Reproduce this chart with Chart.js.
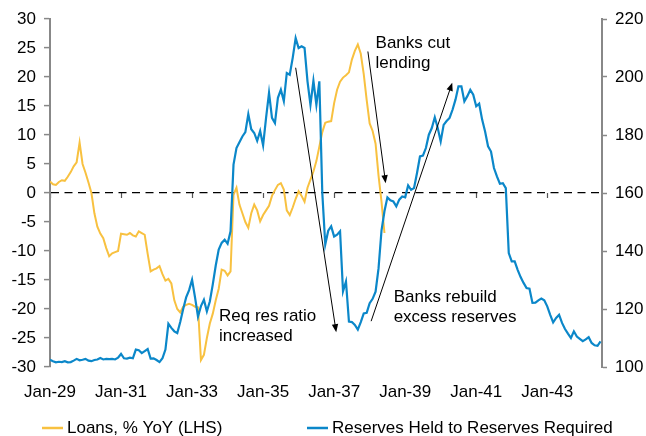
<!DOCTYPE html>
<html>
<head>
<meta charset="utf-8">
<script src="https://cdn.jsdelivr.net/npm/chart.js@4.4.1/dist/chart.umd.min.js"></script>
<style>
  html, body { margin: 0; padding: 0; background: #fff; }
</style>
</head>
<body>
<canvas id="chart" width="646" height="436"></canvas>
<script>
// Monthly values, index 0 = Jan-29
const loans = [
    2.0, 1.5, 1.4, 1.9, 2.2, 2.1, 2.8, 3.6, 4.6, 5.3,
    8.7, 5.0, 3.5, 1.8, 0.0, -3.5, -5.8, -7.0, -7.8, -9.5,
    -10.9, -10.4, -10.2, -10.0, -7.0, -7.1, -7.2, -6.9, -7.3, -7.5,
    -6.6, -6.9, -7.2, -10.5, -13.5, -13.2, -13.0, -12.6, -14.0, -15.1,
    -14.8, -15.6, -18.5, -20.0, -20.6, -19.6, -19.3, -19.1, -19.3, -19.6,
    -19.7, -28.8, -27.9, -25.0, -22.5, -20.8, -18.5, -16.5, -13.2, -13.4,
    -14.2, -13.5, -0.3, 0.9, -2.0, -3.5, -5.0, -6.0, -3.5, -2.0,
    -3.0, -4.9, -3.8, -3.0, -2.2, -0.5, 0.5, 1.4, 1.7, 0.6,
    -3.0, -3.8, -2.5, -1.0, 0.3, -0.5, -1.5, 0.9, 2.3, 3.7,
    5.5, 8.0, 10.5, 12.1, 12.3, 12.4, 15.5, 17.8, 19.2, 19.9,
    20.3, 20.8, 23.0, 24.5, 25.6, 24.0, 20.5, 16.0, 12.0, 10.7,
    8.5, 3.0, -1.5, -6.9
];

const reserves = [
    102.5, 102.0, 101.6, 101.8, 101.7, 102.0, 101.6, 101.7, 102.2, 102.8,
    102.3, 102.5, 102.8, 102.2, 102.0, 102.4, 102.6, 103.1, 102.6, 102.8,
    102.7, 102.8, 102.6, 103.2, 104.5, 103.0, 102.9, 103.2, 103.0, 106.0,
    105.8, 104.8, 105.5, 106.2, 102.9, 103.0, 102.4, 101.7, 103.0, 106.0,
    114.9, 113.5, 112.3, 111.7, 115.5, 120.0, 124.0, 126.5, 130.1, 124.0,
    117.4, 121.0, 123.2, 119.2, 122.6, 128.5, 135.0, 140.5, 142.8, 143.9,
    142.5, 146.8, 169.8, 175.5, 177.5, 179.5, 181.0, 187.2, 182.0, 180.7,
    178.0, 181.4, 176.4, 185.9, 194.5, 185.9, 184.1, 192.8, 195.6, 191.7,
    201.4, 200.8, 206.6, 213.4, 210.0, 210.6, 210.0, 198.5, 190.4, 198.7,
    190.4, 198.5, 160.0, 142.2, 147.0, 148.5, 145.0, 145.6, 146.8, 126.1,
    129.5, 115.7, 115.5, 114.5, 112.9, 115.5, 118.5, 118.7, 122.0, 123.5,
    126.0, 134.0, 147.0, 153.7, 158.5, 157.5, 157.1, 155.4, 157.7, 158.8,
    158.5, 162.6, 161.1, 161.7, 166.9, 172.6, 172.9, 175.5, 180.1, 182.4,
    186.1, 182.4, 177.8, 183.5, 184.8, 185.9, 188.7, 192.2, 196.8, 196.8,
    191.6, 193.4, 195.6, 193.9, 189.9, 190.8, 185.3, 181.2, 176.1, 174.3,
    168.6, 165.7, 163.2, 163.4, 161.7, 139.3, 136.4, 136.4, 133.5, 131.0,
    129.0, 127.2, 127.0, 122.1, 122.2, 123.0, 123.6, 123.0, 120.9, 118.0,
    115.4, 116.9, 118.0, 115.2, 113.1, 111.5, 110.0, 112.3, 110.5, 109.7,
    108.9, 109.5, 110.3, 108.3, 107.5, 107.3, 108.8
];

const xTickLabels = ['Jan-29', 'Jan-31', 'Jan-33', 'Jan-35', 'Jan-37', 'Jan-39', 'Jan-41', 'Jan-43'];
const seriesNames = ['Loans, % YoY (LHS)', 'Reserves Held to Reserves Required'];
const seriesColors = ['#F8C140', '#0B87C9'];

// annotation text, anchored in (month, LHS value)
const notes = [
    { lines: ['Banks cut', 'lending'], x: 110.0, y: 25.0 },
    { lines: ['Req res ratio', 'increased'], x: 57.1, y: -22.0 },
    { lines: ['Banks rebuild', 'excess reserves'], x: 116.1, y: -18.8 }
];
const arrows = [
    { from: [83.0, 21.6], to: [96.7, -24.0] },
    { from: [107.4, 24.4], to: [113.4, 1.7] },
    { from: [108.5, -22.1], to: [135.9, 19.0] }
];

Chart.defaults.font.family = '"Liberation Sans", Arial, sans-serif';
Chart.defaults.font.size = 17;
Chart.defaults.color = '#000';

function drawArrow(ctx, x1, y1, x2, y2) {
    const ang = Math.atan2(y2 - y1, x2 - x1);
    const len = 8, half = 3.2;
    const c = Math.cos(ang), s = Math.sin(ang);
    ctx.beginPath();
    ctx.moveTo(x1, y1);
    ctx.lineTo(x2 - c * len * 0.7, y2 - s * len * 0.7);
    ctx.stroke();
    ctx.beginPath();
    ctx.moveTo(x2, y2);
    ctx.lineTo(x2 - c * len + s * half, y2 - s * len - c * half);
    ctx.lineTo(x2 - c * len - s * half, y2 - s * len + c * half);
    ctx.closePath();
    ctx.fill();
}

const annotations = {
    id: 'annotations',
    afterDatasetsDraw(chart) {
        const { ctx, scales: { x, y } } = chart;
        ctx.save();
        ctx.fillStyle = '#000';
        ctx.strokeStyle = '#000';
        ctx.lineWidth = 1;
        ctx.font = '17px "Liberation Sans", Arial, sans-serif';
        ctx.textBaseline = 'alphabetic';
        notes.forEach(n => {
            n.lines.forEach((t, i) => {
                ctx.fillText(t, x.getPixelForValue(n.x), y.getPixelForValue(n.y) + i * 20);
            });
        });
        arrows.forEach(a => {
            drawArrow(ctx,
                x.getPixelForValue(a.from[0]), y.getPixelForValue(a.from[1]),
                x.getPixelForValue(a.to[0]), y.getPixelForValue(a.to[1]));
        });
        ctx.restore();
    },
    afterDraw(chart) {
        // legend below the axis labels
        const { ctx } = chart;
        const items = [{ x: 42, w: 21 }, { x: 307, w: 21 }];
        const ly = 428;
        ctx.save();
        ctx.font = '17px "Liberation Sans", Arial, sans-serif';
        ctx.textBaseline = 'middle';
        items.forEach((it, i) => {
            ctx.strokeStyle = seriesColors[i];
            ctx.lineWidth = 2.5;
            ctx.beginPath();
            ctx.moveTo(it.x, ly);
            ctx.lineTo(it.x + it.w, ly);
            ctx.stroke();
            ctx.fillStyle = '#000';
            ctx.fillText(seriesNames[i], it.x + it.w + 4, ly);
        });
        ctx.restore();
    }
};

const ctx = document.getElementById('chart').getContext('2d');
new Chart(ctx, {
    type: 'line',
    data: {
        datasets: [{
            label: seriesNames[0],
            data: loans.map((v, i) => ({ x: i, y: v })),
            borderColor: seriesColors[0],
            borderWidth: 2,
            pointRadius: 0,
            tension: 0,
            yAxisID: 'y',
            order: 1
        }, {
            label: seriesNames[1],
            data: reserves.map((v, i) => ({ x: i, y: v })),
            borderColor: seriesColors[1],
            borderWidth: 2.2,
            pointRadius: 0,
            tension: 0,
            yAxisID: 'y1',
            order: 0
        }]
    },
    options: {
        responsive: false,
        animation: false,
        layout: { padding: { left: 0, right: 0, top: 19, bottom: 39 } },
        plugins: {
            legend: { display: false },
            tooltip: { enabled: false }
        },
        scales: {
            x: {
                type: 'linear',
                min: 0,
                max: 186.5,
                grid: { display: false, drawTicks: false },
                border: { display: false },
                ticks: {
                    stepSize: 24,
                    includeBounds: false,
                    autoSkip: false,
                    maxRotation: 0,
                    padding: 15,
                    callback: v => xTickLabels[Math.round(v / 24)] || ''
                },
                afterFit: s => { s.height = 30; }
            },
            xZero: {
                type: 'linear',
                min: 0,
                max: 186.5,
                position: { y: 0 },
                grid: { drawOnChartArea: false, tickLength: 5, tickColor: '#555', tickWidth: 1.2 },
                border: { display: false },
                ticks: { display: false, stepSize: 24, includeBounds: false }
            },
            y: {
                min: -30,
                max: 30,
                ticks: { stepSize: 5, padding: 8 },
                grid: {
                    color: c => (c.tick && c.tick.value === 0) ? '#000' : 'transparent',
                    lineWidth: 1.2,
                    tickColor: '#888',
                    tickLength: 6,
                    tickWidth: 1.5
                },
                border: { color: '#888', width: 2, dash: [8, 5.5] },
                afterFit: s => { s.width = 50; }
            },
            y1: {
                position: 'right',
                min: 100,
                max: 220,
                ticks: { stepSize: 20, padding: 8 },
                grid: { drawOnChartArea: false, tickColor: '#888', tickLength: 5, tickWidth: 1.5 },
                border: { color: '#888', width: 2 },
                afterFit: s => { s.width = 44; }
            }
        }
    },
    plugins: [annotations]
});
</script>
</body>
</html>
